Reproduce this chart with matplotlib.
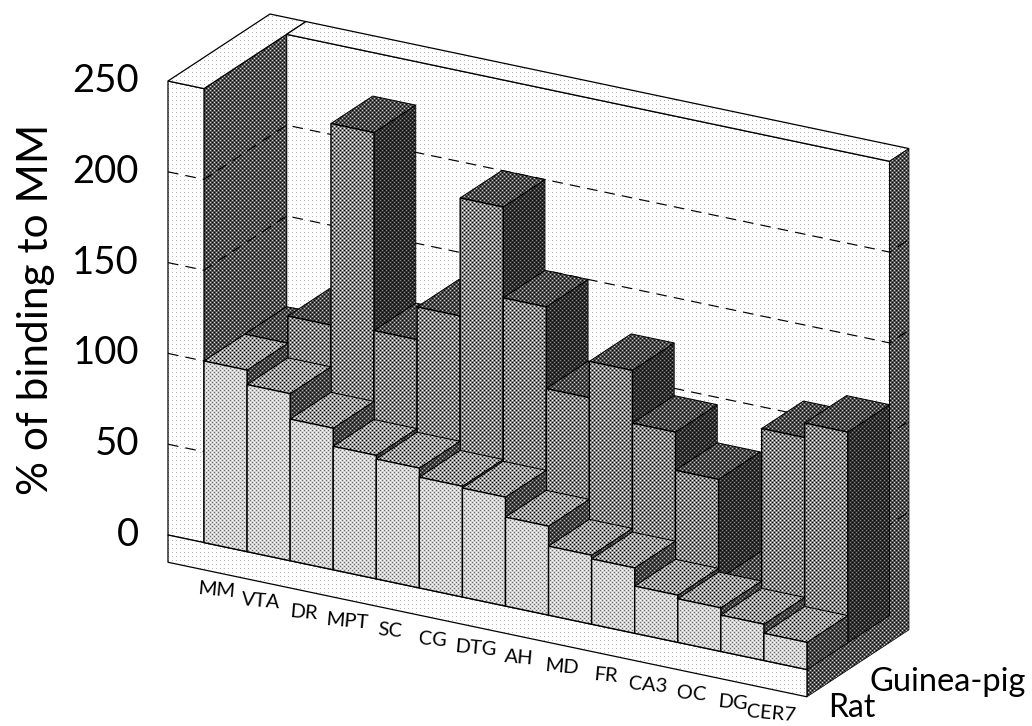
import numpy as np
import matplotlib
matplotlib.use("Agg")
import matplotlib.pyplot as plt
from matplotlib.patches import Polygon

categories = ["MM", "VTA", "DR", "MPT", "SC", "CG", "DTG", "AH", "MD", "FR", "CA3", "OC", "DG", "CER7"]
rat = [100, 92, 78, 68, 66, 61, 60, 49, 38, 36, 26, 24, 20, 15]
guinea_pig = [100, 115, 226, 117, 135, 200, 150, 105, 125, 96, 75, 20, 108, 116]
y_ticks = [0, 50, 100, 150, 200, 250]
grid_levels = [50, 100, 150, 200]
series_names = ["Rat", "Guinea-pig"]

W, H = 1032, 726
FONT = "Lato"
fig = plt.figure(figsize=(W / 100, H / 100), dpi=100)
ax = fig.add_axes([0, 0, 1, 1])


def P(c, d, v):
    """Oblique projection: category position, depth (0-1), value -> canvas."""
    return (204 + 43.07 * c + 102 * d, 542.6 + 9.07 * c - 67 * d - 1.816 * v)


def halftone(tone, amp):
    yy, xx = np.mgrid[0:H, 0:W]
    f = np.cos(np.pi * xx / 2) * np.cos(np.pi * yy / 2)
    return np.clip(tone + amp * f, 0, 1)


def sparse_dots(dot):
    arr = np.ones((H, W))
    arr[::4, ::4] = dot
    return arr


T = {
    "paper": sparse_dots(0.72),
    "rat_front": halftone(0.83, 0.42),
    "rat_top": halftone(0.60, 0.60),
    "rat_side": halftone(0.27, 0.42),
    "gp_front": halftone(0.52, 0.60),
    "gp_top": halftone(0.30, 0.45),
    "gp_side": halftone(0.19, 0.35),
    "wall": halftone(0.32, 0.50),
}
z = [10]


def face(points, tone, lw=0.9, edge="black"):
    pts = np.array(points)
    x0, y0 = np.floor(pts.min(0)).astype(int)
    x1, y1 = np.ceil(pts.max(0)).astype(int)
    x0, y0 = max(x0, 0), max(y0, 0)
    x1, y1 = min(x1, W), min(y1, H)
    z[0] += 1
    im = ax.imshow(T[tone][y0:y1, x0:x1], cmap="gray", vmin=0, vmax=1,
                   extent=(x0, x1, y1, y0), interpolation="nearest",
                   aspect="auto", zorder=z[0])
    clip = Polygon(pts, closed=True, transform=ax.transData)
    im.set_clip_path(clip)
    ax.add_patch(Polygon(pts, closed=True, fill=False, edgecolor=edge, lw=lw,
                         zorder=z[0] + 0.5, joinstyle="miter"))


def bar(i, d0, d1, v, front, top, side):
    a, b = float(i), float(i + 1)
    face([P(b, d0, v), P(b, d1, v), P(b, d1, 0), P(b, d0, 0)], side, lw=0.5)
    face([P(a, d0, v), P(a, d1, v), P(b, d1, v), P(b, d0, v)], top, lw=0.7)
    face([P(a, d0, v), P(b, d0, v), P(b, d0, 0), P(a, d0, 0)], front, lw=1.0)


CL, DB, TOP, N = -0.836, 0.81, 250, len(categories)

# Frame of the box
face([P(0, DB, TOP), P(N, DB, TOP), P(N, DB, 0), P(0, DB, 0)], "paper", lw=0.9)
face([P(0, 0, TOP), P(0, DB, TOP), P(0, DB, 0), P(0, 0, 0)], "wall", lw=0.5)
face([P(CL, 0, TOP), P(0, 0, TOP), P(0, 0, 0), P(CL, 0, 0)], "paper", lw=0.9)
face([P(CL, 0, TOP), P(0, 0, TOP), P(0, 1, TOP), P(CL, 1, TOP)], "paper", lw=0.9)
face([P(0, 1, TOP), P(N, 1, TOP), P(N, DB, TOP), P(0, DB, TOP)], "paper", lw=0.9)
face([P(N, DB, TOP), P(N, 1, TOP), P(N, 1, -15), P(N, 0, -15), P(N, 0, 0), P(N, DB, 0)],
     "wall", lw=0.5)
face([P(CL, 0, 0), P(N, 0, 0), P(N, 0, -15), P(CL, 0, -15)], "paper", lw=0.9)

# Dashed grid on each wall
z[0] += 1
for lev in grid_levels:
    path = [P(CL, 0, lev), P(0, 0, lev), P(0, DB, lev), P(N, DB, lev), P(N, 1, lev)]
    xs, ys = zip(*path)
    ax.plot(xs, ys, color="black", lw=0.85, dashes=(9, 6), zorder=z[0])

# Guinea-pig row first, then the rat row in front of it
for i, v in enumerate(guinea_pig):
    bar(i, 0.40, DB, v, "gp_front", "gp_top", "gp_side")
for i, v in enumerate(rat):
    bar(i, 0.0, 0.40, v, "rat_front", "rat_top", "rat_side")

top_z = z[0] + 5
for v in y_ticks:
    x, y = P(CL, 0, v)
    ax.text(x - 29, y, str(v), ha="right", va="center", fontsize=27.5, family=FONT, zorder=top_z)

ax.text(36, 309, "% of binding to MM", rotation=90, ha="center", va="center",
        fontsize=30.5, family=FONT, zorder=top_z)

for i, name in enumerate(categories):
    x, y = P(i + 0.5, 0, -15)
    dx = {"MM": -1, "DG": -2, "CER7": -6}.get(name, 0)
    dy = {"MM": -4, "VTA": -2, "CER7": 1}.get(name, 0)
    ax.text(x - 8 + dx, y + 20 + dy, name, ha="center", va="center", rotation=-5,
            fontsize=14.5, family=FONT, zorder=top_z)

ax.text(852, 708, series_names[0], ha="center", va="center", fontsize=23, family=FONT, zorder=top_z)
ax.text(948, 682, series_names[1], ha="center", va="center", fontsize=23.5, family=FONT, zorder=top_z)

ax.set_xlim(0, W)
ax.set_ylim(H, 0)
ax.axis("off")
fig.savefig("out.png", dpi=100, facecolor="white")
